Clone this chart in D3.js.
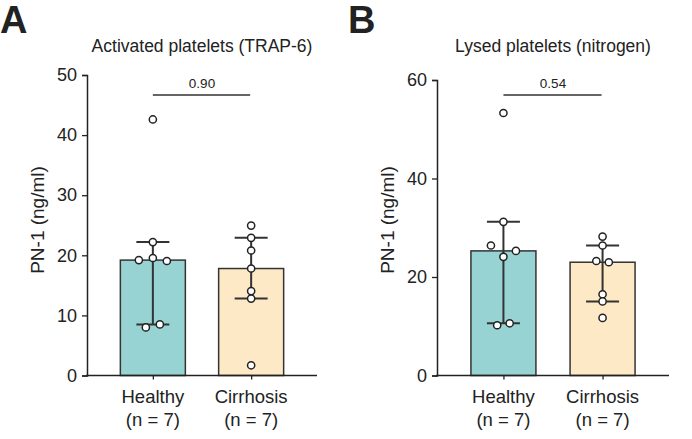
<!DOCTYPE html>
<html>
<head>
<meta charset="utf-8">
<script src="https://cdn.jsdelivr.net/npm/d3@7"></script>
<style>
  body { margin: 0; background: #fff; }
  text { font-family: "Liberation Sans", Arial, sans-serif; fill: #222; }
</style>
</head>
<body>
<div id="chart"></div>
<script>
// data
const groups = ['Healthy', 'Cirrhosis'];
const groupN = ['(n = 7)', '(n = 7)'];
const panelLetters = ['A', 'B'];
const panelTitles = ['Activated platelets (TRAP-6)', 'Lysed platelets (nitrogen)'];
const pValues = ['0.90', '0.54'];
const yMaxA = 50;
const yMaxB = 60;
const yTicksA = [0, 10, 20, 30, 40, 50];
const yTicksB = [0, 20, 40, 60];
const healthyA = [42.6, 22.2, 19.2, 19.55, 19.05, 8.0, 8.5];
const cirrhosisA = [24.95, 22.9, 20.8, 17.8, 14.05, 12.8, 1.7];
const healthyB = [53.3, 31.2, 26.4, 24.1, 25.3, 10.2, 10.6];
const cirrhosisB = [28.2, 26.4, 23.25, 23.0, 16.5, 15.05, 11.7];

const colors = ['#98d3d3', '#fde9c6'];

const W = 692, H = 439;
const svg = d3.select('#chart').append('svg')
  .attr('width', W).attr('height', H);

// quartiles the way Prism does it: position (n+1)p
function quant(vals, p) {
  const s = vals.slice().sort(d3.ascending);
  const pos = (s.length + 1) * p - 1;
  const lo = Math.floor(pos), hi = Math.ceil(pos);
  return s[lo] + (s[hi] - s[lo]) * (pos - lo);
}

// spread points that sit too close vertically
function dodge(vals, y, gap, spread) {
  const idx = vals.map((v, i) => i).sort((a, b) => vals[b] - vals[a]);
  const off = new Array(vals.length).fill(0);
  let cluster = [idx[0]];
  const flush = () => {
    const c = cluster.slice().sort((a, b) => a - b);
    const n = c.length;
    if (n === 2) { off[c[0]] = -spread / 2; off[c[1]] = spread / 2; }
    else if (n === 3) { off[c[0]] = -spread; off[c[1]] = 0; off[c[2]] = spread; }
    else c.forEach((k, j) => { off[k] = (j - (n - 1) / 2) * spread; });
  };
  for (let i = 1; i < idx.length; i++) {
    const prev = cluster[cluster.length - 1];
    if (Math.abs(y(vals[idx[i]]) - y(vals[prev])) < gap) cluster.push(idx[i]);
    else { flush(); cluster = [idx[i]]; }
  }
  flush();
  return off;
}

function panel(cfg) {
  const g = svg.append('g');
  const y = d3.scaleLinear().domain([0, cfg.yMax]).range([375.5, cfg.top]);
  const x = d3.scalePoint().domain(groups).range([cfg.left, cfg.right]).padding(0.67);
  const barW = 65;

  g.append('text')
    .attr('x', cfg.letterX).attr('y', 33)
    .style('font-size', '38px').style('font-weight', 'bold')
    .text(cfg.letter);

  g.append('text')
    .attr('x', (x(groups[0]) + x(groups[1])) / 2 + cfg.titleShift).attr('y', 52)
    .attr('text-anchor', 'middle')
    .style('font-size', '17.5px')
    .text(cfg.title);

  // y axis
  const yAxis = g.append('g')
    .attr('transform', `translate(${cfg.left}, 0)`)
    .call(d3.axisLeft(y).tickValues(cfg.ticks).tickSize(5).tickPadding(5));
  yAxis.select('.domain').attr('stroke', '#222').attr('stroke-width', 1.5);
  yAxis.selectAll('.tick line').attr('stroke', '#222').attr('stroke-width', 1.3);
  yAxis.selectAll('.tick text').style('font-size', '18px')
    .style('font-family', '"Liberation Sans", Arial, sans-serif').attr('fill', '#222');

  g.append('text')
    .attr('transform', `translate(${cfg.left - 43}, 220) rotate(-90)`)
    .attr('text-anchor', 'middle')
    .style('font-size', '19px')
    .text('PN-1 (ng/ml)');

  // bars (median) + IQR
  cfg.series.forEach((vals, i) => {
    const cx = x(groups[i]);
    const med = quant(vals, 0.5), q1 = quant(vals, 0.25), q3 = quant(vals, 0.75);
    g.append('rect')
      .attr('x', cx - barW / 2).attr('y', y(med))
      .attr('width', barW).attr('height', y(0) - y(med))
      .attr('fill', colors[i]).attr('stroke', '#333').attr('stroke-width', 1.5);
    g.append('line')
      .attr('x1', cx).attr('x2', cx).attr('y1', y(q3)).attr('y2', y(q1))
      .attr('stroke', '#333').attr('stroke-width', 2);
    [q1, q3].forEach(q => {
      g.append('line')
        .attr('x1', cx - 16.5).attr('x2', cx + 16.5).attr('y1', y(q)).attr('y2', y(q))
        .attr('stroke', '#333').attr('stroke-width', 2);
    });
  });

  // x axis
  const xAxis = g.append('g')
    .attr('transform', `translate(0, ${y(0)})`)
    .call(d3.axisBottom(x).tickSize(4).tickFormat(''));
  xAxis.select('.domain').attr('stroke', '#222').attr('stroke-width', 1.5)
    .attr('d', `M${cfg.left - 1},0H${cfg.right}`);
  xAxis.selectAll('.tick line').attr('stroke', '#222').attr('stroke-width', 1.3);

  groups.forEach((grp, i) => {
    g.append('text').attr('x', x(grp)).attr('y', 403)
      .attr('text-anchor', 'middle').style('font-size', '18.5px').text(grp);
    g.append('text').attr('x', x(grp)).attr('y', 426)
      .attr('text-anchor', 'middle').style('font-size', '18.5px').text(groupN[i]);
  });

  // points
  cfg.series.forEach((vals, i) => {
    const off = dodge(vals, y, 7, cfg.spread);
    g.selectAll(null).data(vals).enter().append('circle')
      .attr('cx', (d, k) => x(groups[i]) + off[k])
      .attr('cy', d => y(d))
      .attr('r', 3.6)
      .attr('fill', '#fff').attr('stroke', '#222').attr('stroke-width', 1.5);
  });

  // comparison bracket
  g.append('line')
    .attr('x1', x(groups[0])).attr('x2', x(groups[1]) - 1)
    .attr('y1', 95).attr('y2', 95)
    .attr('stroke', '#333').attr('stroke-width', 1.5);
  g.append('text')
    .attr('x', (x(groups[0]) + x(groups[1])) / 2).attr('y', 88)
    .attr('text-anchor', 'middle').style('font-size', '13.5px')
    .text(cfg.p);
}

panel({ letter: panelLetters[0], letterX: 0, title: panelTitles[0], p: pValues[0],
  yMax: yMaxA, ticks: yTicksA, top: 75, left: 87, right: 317, titleShift: 0,
  spread: 14, series: [healthyA, cirrhosisA] });
panel({ letter: panelLetters[1], letterX: 348, title: panelTitles[1], p: pValues[1],
  yMax: yMaxB, ticks: yTicksB, top: 80, left: 437, right: 669, titleShift: 0,
  spread: 12.5, series: [healthyB, cirrhosisB] });
</script>
</body>
</html>
